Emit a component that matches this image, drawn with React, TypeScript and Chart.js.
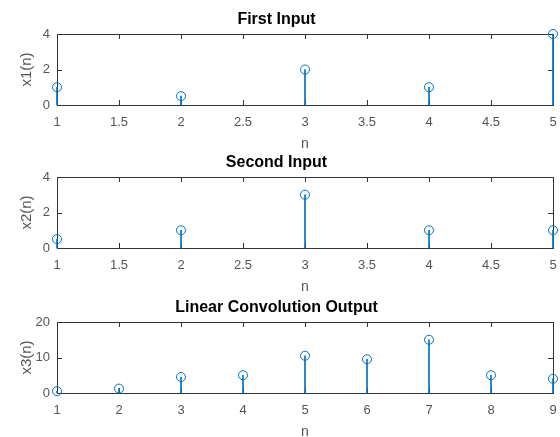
import React, { useEffect, useRef } from "react";
import { Chart, registerables } from "chart.js";

Chart.register(...registerables);

// ---- Data ----
const n1: number[] = [1, 2, 3, 4, 5];
const x1: number[] = [1, 0.5, 2, 1, 4];
const n2: number[] = [1, 2, 3, 4, 5];
const x2: number[] = [0.5, 1, 3, 1, 1];
const n3: number[] = [1, 2, 3, 4, 5, 6, 7, 8, 9];
const x3: number[] = [0.5, 1.25, 4.5, 5, 10.5, 9.5, 15, 5, 4];

const titles: string[] = ["First Input", "Second Input", "Linear Convolution Output"];
const yLabels: string[] = ["x1(n)", "x2(n)", "x3(n)"];
const xLabel = "n";
const yMax: number[] = [4, 4, 20];
const yStep: number[] = [2, 2, 10];
const xMax: number[] = [5, 5, 9];
const xStep: number[] = [0.5, 0.5, 1];

const BLUE = "#0072BD";
const FONT = "'Liberation Sans', Arial, Helvetica, sans-serif";

const boxPlugin = {
  id: "matlabBox",
  beforeDatasetsDraw(chart: any) {
    const { ctx, chartArea } = chart;
    const { left, right, top, bottom } = chartArea;
    const xs = chart.scales.x;
    const ys = chart.scales.y;
    const tl = 5;
    ctx.save();
    ctx.strokeStyle = "#333333";
    ctx.lineWidth = 1;
    ctx.strokeRect(Math.round(left) + 0.5, Math.round(top) + 0.5, Math.round(right - left), Math.round(bottom - top));
    ctx.beginPath();
    xs.ticks.forEach((t: any) => {
      const px = Math.round(xs.getPixelForValue(t.value)) + 0.5;
      if (px <= left + 1 || px >= right - 1) return;
      ctx.moveTo(px, bottom);
      ctx.lineTo(px, bottom - tl);
      ctx.moveTo(px, top);
      ctx.lineTo(px, top + tl);
    });
    ys.ticks.forEach((t: any) => {
      const py = Math.round(ys.getPixelForValue(t.value)) + 0.5;
      if (py <= top + 1 || py >= bottom - 1) return;
      ctx.moveTo(left, py);
      ctx.lineTo(left + tl, py);
      ctx.moveTo(right, py);
      ctx.lineTo(right - tl, py);
    });
    ctx.stroke();
    ctx.restore();
  },
};

function Stem({ idx, ns, vals, top }: { idx: number; ns: number[]; vals: number[]; top: number }) {
  const ref = useRef<HTMLCanvasElement | null>(null);
  useEffect(() => {
    if (!ref.current) return;
    const pts = ns.map((n, i) => ({ x: n, y: vals[i] }));
    const chart = new Chart(ref.current, {
      type: "scatter",
      data: {
        datasets: [
          {
            type: "bar",
            data: pts,
            backgroundColor: BLUE,
            borderWidth: 0,
            barThickness: 1,
            clip: false,
          } as any,
          {
            type: "scatter",
            data: pts,
            pointStyle: "circle",
            pointRadius: 4.5,
            pointBorderWidth: 1,
            pointBorderColor: BLUE,
            pointBackgroundColor: "rgba(0,0,0,0)",
            pointHoverRadius: 4.5,
            clip: false,
          } as any,
        ],
      },
      plugins: [boxPlugin],
      options: {
        responsive: false,
        animation: false,
        devicePixelRatio: 1,
        events: [],
        layout: { padding: { left: 0, right: 7, top: 0, bottom: 0 } },
        plugins: {
          legend: { display: false },
          tooltip: { enabled: false },
          title: {
            display: true,
            text: titles[idx],
            color: "#000000",
            font: { family: FONT, size: 16, weight: "bold" },
            padding: { top: 1.4, bottom: 4.4 },
          },
        },
        scales: {
          x: {
            type: "linear",
            position: "bottom",
            min: 1,
            max: xMax[idx],
            offset: false,
            grid: { display: false, drawTicks: false },
            border: { display: false },
            ticks: {
              stepSize: xStep[idx],
              color: "#555555",
              font: { family: FONT, size: 13 },
              padding: 10,
              maxRotation: 0,
              autoSkip: false,
              callback: (v: any) => String(Number(v)),
            },
            title: {
              display: true,
              text: xLabel,
              color: "#555555",
              font: { family: FONT, size: 14 },
              padding: { top: 0, bottom: 0 },
            },
            afterFit: (s: any) => {
              s.height = 48;
              s.paddingLeft = 0;
              s.paddingRight = 0;
            },
          },
          y: {
            type: "linear",
            min: 0,
            max: yMax[idx],
            grid: { display: false, drawTicks: false },
            border: { display: false },
            ticks: {
              stepSize: yStep[idx],
              color: "#555555",
              font: { family: FONT, size: 13 },
              padding: 7,
              callback: (v: any) => String(Number(v)),
            },
            title: {
              display: true,
              text: yLabels[idx],
              color: "#555555",
              font: { family: FONT, size: 15 },
              padding: { top: 18, bottom: 0 },
            },
            afterFit: (s: any) => {
              s.width = 57;
              s.paddingTop = 0;
              s.paddingBottom = 0;
            },
          },
        },
      } as any,
    });
    return () => chart.destroy();
  }, [idx, ns, vals]);
  return (
    <canvas
      ref={ref}
      width={560}
      height={144}
      style={{ position: "absolute", left: 0, top, width: 560, height: 144 }}
    />
  );
}

export default function App() {
  return (
    <div
      style={{
        position: "absolute",
        left: 0,
        top: 0,
        width: 560,
        height: 437,
        overflow: "hidden",
        background: "#ffffff",
      }}
    >
      <Stem idx={0} ns={n1} vals={x1} top={9} />
      <Stem idx={1} ns={n2} vals={x2} top={152} />
      <Stem idx={2} ns={n3} vals={x3} top={297} />
    </div>
  );
}
